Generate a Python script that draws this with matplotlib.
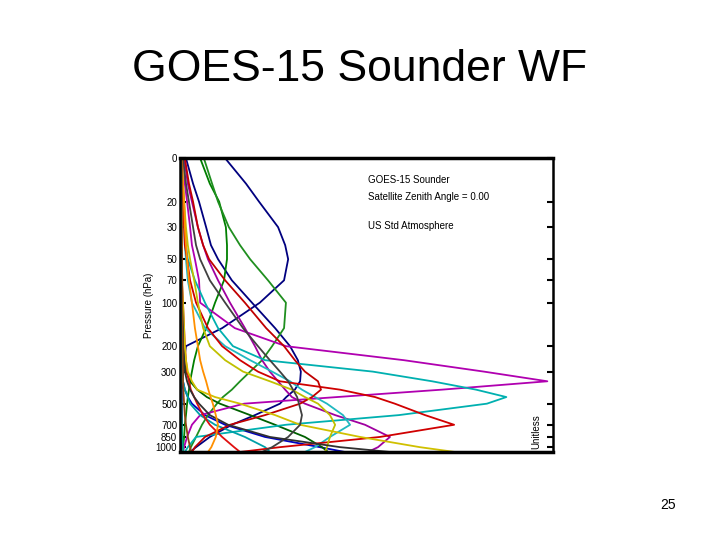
import numpy as np
import matplotlib
matplotlib.use("Agg")
import matplotlib.pyplot as plt

plt.rcParams['font.family'] = ['Liberation Sans', 'DejaVu Sans']

# pressure levels (hPa) shared by every weighting function
pressure = [10, 15, 20, 30, 40, 50, 70, 100, 150, 200, 250, 300, 350,
            400, 450, 500, 600, 700, 850, 1000, 1080]

# weighting functions (percent of the axis width)
navy_a = [12.1, 17.7, 21.2, 26.3, 28.2, 29.0, 27.9, 21.4, 11.3, 1.6, 1.1,
          0.8, 0.8, 0.5, 0.5, 0.5, 0.5, 0.5, 0.3, 0.3, 0.3]
navy_b = [1.6, 3.5, 5.1, 7.0, 8.3, 10.2, 13.9, 19.3, 25.5, 29.5, 31.6,
          32.4, 32.2, 30.8, 28.5, 26.8, 20.1, 13.9, 8.0, 4.3, 2.7]
navy_c = [0.3, 0.3, 0.3, 0.3, 0.3, 0.3, 0.3, 0.3, 0.3, 0.5, 0.5,
          0.5, 0.8, 1.3, 2.1, 3.2, 6.7, 12.1, 22.8, 37.5, 44.2]
green_1 = [5.4, 8.0, 10.5, 12.3, 12.6, 12.6, 11.8, 9.4, 7.0, 4.8, 3.8,
           3.2, 2.7, 2.4, 2.1, 1.9, 1.6, 1.3, 1.1, 0.8, 0.8]
green_2 = [6.4, 8.6, 10.2, 13.1, 16.1, 18.8, 23.6, 28.4, 27.9, 24.7, 22.0,
           18.8, 16.1, 13.9, 11.5, 9.9, 7.5, 5.9, 4.3, 2.9, 2.4]
green_3 = [0.3, 0.3, 0.3, 0.3, 0.3, 0.5, 0.5, 0.5, 0.5, 0.8, 1.1,
           1.6, 2.7, 4.6, 7.2, 10.7, 18.8, 25.5, 33.5, 38.1, 39.7]
magenta_1 = [0.8, 1.3, 1.9, 2.7, 3.2, 4.0, 5.1, 5.4, 14.7, 28.4, 60.0,
             81.5, 98.5, 70.2, 42.1, 17.2, 5.4, 3.2, 1.9, 1.1, 0.8]
magenta_2 = [1.1, 2.1, 3.2, 4.8, 6.2, 7.5, 10.2, 13.4, 17.4, 20.1, 22.0,
             24.1, 26.3, 28.2, 30.0, 33.5, 41.6, 49.6, 56.3, 53.1, 50.4]
cyan_1 = [0.5, 0.8, 1.1, 1.3, 1.6, 2.1, 4.0, 6.7, 10.2, 14.2, 22.8,
          51.7, 67.6, 79.4, 87.5, 82.3, 58.7, 28.4, 4.3, 2.1, 1.3]
cyan_2 = [0.3, 0.5, 0.8, 1.1, 1.3, 1.6, 2.1, 3.2, 6.7, 12.1, 18.8,
          24.7, 29.5, 32.7, 36.2, 39.4, 43.7, 45.6, 40.2, 36.2, 33.5]
cyan_3 = [0.3, 0.3, 0.3, 0.3, 0.3, 0.3, 0.3, 0.3, 0.3, 0.3, 0.5,
          0.5, 0.8, 1.3, 2.1, 2.7, 5.4, 9.4, 17.4, 22.8, 24.1]
red_1 = [0.3, 0.5, 0.8, 1.1, 1.3, 1.9, 2.7, 4.3, 7.5, 11.3, 16.1,
         20.9, 26.8, 42.9, 52.3, 57.6, 65.7, 73.5, 53.6, 26.8, 16.1]
red_2 = [1.3, 2.4, 3.5, 4.8, 6.2, 7.8, 12.1, 17.4, 23.1, 27.9, 30.8,
         33.5, 37.0, 37.8, 35.4, 32.2, 22.8, 13.4, 6.7, 4.0, 3.2]
red_3 = [0.3, 0.3, 0.3, 0.5, 0.5, 0.5, 0.5, 0.8, 1.1, 1.3, 1.6,
         1.9, 2.4, 2.9, 3.8, 4.6, 6.2, 8.0, 11.3, 14.5, 16.1]
yellow_1 = [0.5, 0.8, 1.1, 1.6, 2.1, 2.7, 3.8, 4.8, 6.2, 8.0, 12.1,
            16.9, 24.1, 30.0, 33.5, 37.0, 40.2, 41.6, 40.2, 39.4, 38.9]
yellow_2 = [0.3, 0.3, 0.3, 0.5, 0.5, 0.5, 0.5, 0.8, 1.1, 1.3, 1.6,
            2.1, 3.2, 4.6, 9.4, 16.1, 25.5, 32.2, 48.3, 64.3, 73.7]
gray_1 = [0.8, 1.6, 2.4, 3.5, 4.3, 5.4, 8.0, 12.1, 16.9, 20.9, 24.1,
          26.8, 29.0, 30.3, 31.4, 31.9, 32.7, 32.2, 29.0, 24.7, 22.0]
gray_2 = [0.3, 0.3, 0.3, 0.3, 0.3, 0.5, 0.5, 0.5, 0.8, 0.8, 1.1,
          1.3, 1.9, 2.7, 3.8, 5.1, 8.0, 12.9, 24.1, 42.9, 56.3]
orange_1 = [0.5, 0.8, 1.1, 1.3, 1.6, 1.9, 2.4, 3.2, 4.0, 4.8, 5.4,
            6.2, 7.0, 7.6, 8.2, 8.8, 9.6, 10.2, 9.6, 8.4, 7.5]
brown_1 = [0.5, 0.5, 0.5, 0.5, 0.5, 0.5, 0.6, 0.6, 0.6, 0.7, 0.7,
           0.8, 0.8, 0.9, 1.0, 1.1, 1.3, 1.6, 2.1, 2.7, 3.0]
teal_1 = [0.2, 0.2, 0.2, 0.2, 0.2, 0.2, 0.2, 0.2, 0.3, 0.3, 0.3,
          0.3, 0.3, 0.3, 0.3, 0.4, 0.4, 0.5, 0.6, 0.8, 0.9]

curves = [
    (navy_a, '#00007f'), (navy_b, '#00007f'), (navy_c, '#0000c0'),
    (green_1, '#007f00'), (green_2, '#1f8f1f'), (green_3, '#006000'),
    (magenta_1, '#b000b0'), (magenta_2, '#a000a0'),
    (cyan_1, '#00b0b0'), (cyan_2, '#20b8c0'), (cyan_3, '#00a0a8'),
    (red_1, '#d00000'), (red_2, '#c00000'), (red_3, '#e01010'),
    (yellow_1, '#c0c000'), (yellow_2, '#d0c000'),
    (gray_1, '#404040'), (gray_2, '#303030'),
    (orange_1, '#ff9000'), (brown_1, '#8b4513'), (teal_1, '#00a080'),
]

ytick_vals = [10, 20, 30, 50, 70, 100, 200, 300, 500, 700, 850, 1000]
ytick_text = ['0', '20', '30', '50', '70', '100', '200', '300', '500',
              '700', '850', '1000']

fig = plt.figure(figsize=(7.2, 5.4), dpi=100)
fig.text(0.5, 0.872, 'GOES-15 Sounder WF', ha='center', va='center',
         fontsize=32)
fig.text(0.928, 0.064, '25', ha='center', va='center', fontsize=10)

ax = fig.add_axes([0.25, 0.163, 0.518, 0.544])
for vals, col in curves:
    ax.plot(vals, pressure, color=col, lw=1.3)

ax.set_yscale('log')
ax.set_ylim(1080, 10)
ax.set_xlim(0, 100)
ax.set_yticks(ytick_vals)
ax.set_yticklabels(ytick_text)
ax.yaxis.set_minor_locator(matplotlib.ticker.NullLocator())
ax.tick_params(axis='y', which='major', left=True, right=True,
               direction='in', length=4, width=1.5, labelsize=7, pad=2)
ax.set_xticks([])
ax.set_ylabel('Pressure (hPa)', fontsize=7, labelpad=1)

for side in ['top', 'bottom']:
    ax.spines[side].set_linewidth(2.5)
for side in ['left', 'right']:
    ax.spines[side].set_linewidth(1.8)

ax.text(0.505, 0.925, 'GOES-15 Sounder', transform=ax.transAxes,
        fontsize=7, va='center')
ax.text(0.505, 0.868, 'Satellite Zenith Angle = 0.00', transform=ax.transAxes,
        fontsize=7, va='center')
ax.text(0.505, 0.77, 'US Std Atmosphere', transform=ax.transAxes,
        fontsize=7, va='center')
ax.text(0.955, 0.01, 'Unitless', transform=ax.transAxes, rotation=90,
        fontsize=7, ha='center', va='bottom')

fig.savefig('out.png', dpi=100)
